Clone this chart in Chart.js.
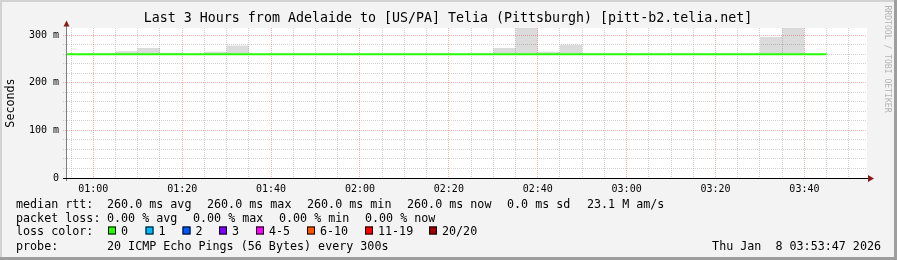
<!DOCTYPE html>
<html>
<head>
<meta charset="utf-8">
<script src="https://cdn.jsdelivr.net/npm/chart.js@4"></script>
<style>
  html, body { margin: 0; padding: 0; background: #f3f3f3; }
  canvas { display: block; }
</style>
</head>
<body>
<canvas id="chart" width="897" height="260"></canvas>
<script>
/* DATA */
// end time of each 5 minute sample, values in ms
const sampleTimes = [
  "00:55", "01:00", "01:05", "01:10", "01:15", "01:20", "01:25", "01:30", "01:35",
  "01:40", "01:45", "01:50", "01:55", "02:00", "02:05", "02:10", "02:15", "02:20",
  "02:25", "02:30", "02:35", "02:40", "02:45", "02:50", "02:55", "03:00", "03:05",
  "03:10", "03:15", "03:20", "03:25", "03:30", "03:35", "03:40", "03:45",
];
const medianRtt = [
  260, 260, 260, 260, 260, 260, 260, 260, 260,
  260, 260, 260, 260, 260, 260, 260, 260, 260,
  260, 260, 260, 260, 260, 260, 260, 260, 260,
  260, 260, 260, 260, 260, 260, 260, 260,
];
const smokeMin = [
  260, 260, 260, 260, 260, 260, 260, 260, 260,
  260, 260, 260, 260, 260, 260, 260, 260, 260,
  260, 260, 260, 260, 260, 260, 260, 260, 260,
  260, 260, 260, 260, 260, 260, 260, 260,
];
const smokeMax = [
  260, 260, 260, 266, 273, 263, 260, 265, 278,
  260, 260, 260, 260, 260, 260, 260, 260, 260,
  260, 260, 273, 330, 265, 280, 260, 260, 260,
  260, 260, 260, 260, 260, 296, 330, 260,
];
const yTickValues = [0, 100, 200, 300];
const yTickLabels = ["0", "100 m", "200 m", "300 m"];
const xTickLabels = ["01:00", "01:20", "01:40", "02:00", "02:20", "02:40", "03:00", "03:20", "03:40"];
const timeStart = "00:54:05";
const timeEnd = "03:54:05";
const stepMin = 5;

// legend texts
const legendRtt = ["260.0 ms avg", "260.0 ms max", "260.0 ms min", "260.0 ms now", "0.0 ms sd", "23.1 M am/s"];
const legendLoss = ["0.00 % avg", "0.00 % max", "0.00 % min", "0.00 % now"];
const lossLabels = ["0", "1", "2", "3", "4-5", "6-10", "11-19", "20/20"];
const lossColors = ["#26ff00", "#00b8ff", "#0059ff", "#7e00ff", "#ff00ff", "#ff5500", "#ff0000", "#a10000"];
const probeText = "20 ICMP Echo Pings (56 Bytes) every 300s";
const dateText = "Thu Jan  8 03:53:47 2026";
const titleText = "Last 3 Hours from Adelaide to [US/PA] Telia (Pittsburgh) [pitt-b2.telia.net]";

/* LAYOUT */
const rttX = [107, 207, 307, 407, 507, 587];
const lossX = [107, 193, 279, 365];
const boxX = [108, 145.5, 182.5, 219, 256, 307, 365, 429];
const MONO = '"DejaVu Sans Mono", monospace';
const minorGrid = "rgba(150,150,150,0.42)";
const majorGrid = "rgba(250,100,100,0.5)";

const toMin = (s) => {
  const p = s.split(":").map(Number);
  return p[0] * 60 + p[1] + (p[2] || 0) / 60;
};
const fmt = (m) =>
  String(Math.floor(m / 60)).padStart(2, "0") + ":" + String(Math.round(m % 60)).padStart(2, "0");

// each sample covers the 5 minutes before its time stamp
function stepPoints(vals) {
  const pts = [];
  sampleTimes.forEach((t, i) => {
    const end = toMin(t);
    pts.push({ x: end - stepMin, y: vals[i] }, { x: end, y: vals[i] });
  });
  return pts;
}

const xMin = toMin(timeStart);
const xMax = toMin(timeEnd);
const xGrid = [];
for (let m = Math.ceil(xMin / stepMin) * stepMin; m <= xMax; m += stepMin) xGrid.push(m);
const yGrid = [];
for (let v = 0; v <= 300; v += 20) yGrid.push(v);

const decor = {
  id: "decor",
  beforeDraw(chart) {
    const { ctx, chartArea: a, width, height } = chart;
    ctx.save();
    ctx.fillStyle = "#f3f3f3";
    ctx.fillRect(0, 0, width, height);
    ctx.fillStyle = "#ffffff";
    ctx.fillRect(a.left, a.top, a.right - a.left, a.bottom - a.top);
    ctx.fillStyle = "#d2d2d2";
    ctx.fillRect(0, 0, width, 2);
    ctx.fillRect(0, 0, 2, height);
    ctx.fillStyle = "#9e9e9e";
    ctx.fillRect(width - 3, 0, 3, height);
    ctx.fillRect(0, height - 3, width, 3);
    ctx.restore();
  },
  afterDraw(chart) {
    const { ctx, chartArea: a } = chart;
    ctx.save();
    // axes
    ctx.lineWidth = 1;
    ctx.strokeStyle = "#808080";
    ctx.beginPath();
    ctx.moveTo(a.left - 0.5, a.top - 2);
    ctx.lineTo(a.left - 0.5, a.bottom + 3);
    ctx.stroke();
    ctx.strokeStyle = "#000";
    ctx.beginPath();
    ctx.moveTo(a.left - 4, a.bottom + 0.5);
    ctx.lineTo(a.right + 2, a.bottom + 0.5);
    ctx.stroke();
    ctx.fillStyle = "#8b1a1a";
    ctx.beginPath();
    ctx.moveTo(a.left - 3.5, a.top - 1.5);
    ctx.lineTo(a.left + 2.5, a.top - 1.5);
    ctx.lineTo(a.left - 0.5, a.top - 7.5);
    ctx.fill();
    ctx.beginPath();
    ctx.moveTo(a.right + 1, a.bottom - 3);
    ctx.lineTo(a.right + 1, a.bottom + 4);
    ctx.lineTo(a.right + 7, a.bottom + 0.5);
    ctx.fill();

    // title
    ctx.fillStyle = "#000";
    ctx.textBaseline = "middle";
    ctx.textAlign = "center";
    ctx.font = "13.3px " + MONO;
    ctx.fillText(titleText, 448, 19);

    // legend
    ctx.textAlign = "left";
    ctx.font = "11.7px " + MONO;
    ctx.fillText("median rtt:", 16, 204.5);
    legendRtt.forEach((t, i) => ctx.fillText(t, rttX[i], 204.5));
    ctx.fillText("packet loss:", 16, 218.5);
    legendLoss.forEach((t, i) => ctx.fillText(t, lossX[i], 218.5));
    ctx.fillText("loss color:", 16, 232);
    lossLabels.forEach((t, i) => {
      ctx.fillStyle = lossColors[i];
      ctx.fillRect(boxX[i], 226.5, 8, 8);
      ctx.strokeStyle = "#000";
      ctx.strokeRect(boxX[i] + 0.5, 227, 7, 7);
      ctx.fillStyle = "#000";
      ctx.fillText(t, boxX[i] + 13, 232);
    });
    ctx.fillText("probe:", 16, 246.5);
    ctx.fillText(probeText, 107, 246.5);
    ctx.textAlign = "right";
    ctx.fillText(dateText, 881, 246.5);

    // watermark
    ctx.translate(887, 59);
    ctx.rotate(Math.PI / 2);
    ctx.textAlign = "center";
    ctx.fillStyle = "#b4b4b4";
    ctx.font = "8.1px " + MONO;
    ctx.fillText("RRDTOOL / TOBI OETIKER", 0, 0);
    ctx.restore();
  },
};

Chart.defaults.font.family = MONO;
Chart.defaults.color = "#000";

new Chart(document.getElementById("chart"), {
  type: "line",
  data: {
    datasets: [
      {
        label: "median rtt",
        data: stepPoints(medianRtt),
        borderColor: "#26ff00",
        borderWidth: 2,
        fill: false,
      },
      {
        label: "smoke min",
        data: stepPoints(smokeMin),
        borderWidth: 0,
        borderColor: "transparent",
        fill: false,
      },
      {
        label: "smoke max",
        data: stepPoints(smokeMax),
        borderWidth: 0,
        borderColor: "transparent",
        backgroundColor: "rgba(0,0,0,0.14)",
        fill: "-1",
      },
    ],
  },
  options: {
    responsive: false,
    animation: false,
    events: [],
    devicePixelRatio: 1,
    elements: { point: { radius: 0 }, line: { tension: 0 } },
    layout: { padding: { left: 0, top: 28, right: 30, bottom: 62 } },
    plugins: { legend: { display: false }, tooltip: { enabled: false } },
    scales: {
      x: {
        type: "linear",
        min: xMin,
        max: xMax,
        afterBuildTicks: (s) => { s.ticks = xGrid.map((v) => ({ value: v })); },
        afterFit: (s) => { s.height = 20; },
        ticks: {
          autoSkip: false,
          maxRotation: 0,
          padding: 3,
          font: { size: 10 },
          callback: (v) => (xTickLabels.includes(fmt(v)) ? fmt(v) : ""),
        },
        grid: {
          tickLength: 2,
          tickBorderDash: [1, 1],
          color: (c) => (c.tick && c.tick.value % 20 === 0 ? majorGrid : minorGrid),
        },
        border: { display: false, dash: [1, 1] },
      },
      y: {
        type: "linear",
        min: 0,
        max: 315,
        afterBuildTicks: (s) => { s.ticks = yGrid.map((v) => ({ value: v })); },
        afterFit: (s) => { s.width = 67; },
        ticks: {
          autoSkip: false,
          padding: 4,
          font: { size: 10 },
          callback: (v) => {
            const i = yTickValues.indexOf(v);
            return i >= 0 ? yTickLabels[i] : "";
          },
        },
        grid: {
          tickLength: 4,
          tickBorderDash: [1, 1],
          color: (c) => (c.tick && c.tick.value % 100 === 0 ? majorGrid : minorGrid),
        },
        border: { display: false, dash: [1, 1] },
        title: {
          display: true,
          text: "Seconds",
          font: { size: 11.7 },
          padding: { top: 4, bottom: 0 },
        },
      },
    },
  },
  plugins: [decor],
});
</script>
</body>
</html>
